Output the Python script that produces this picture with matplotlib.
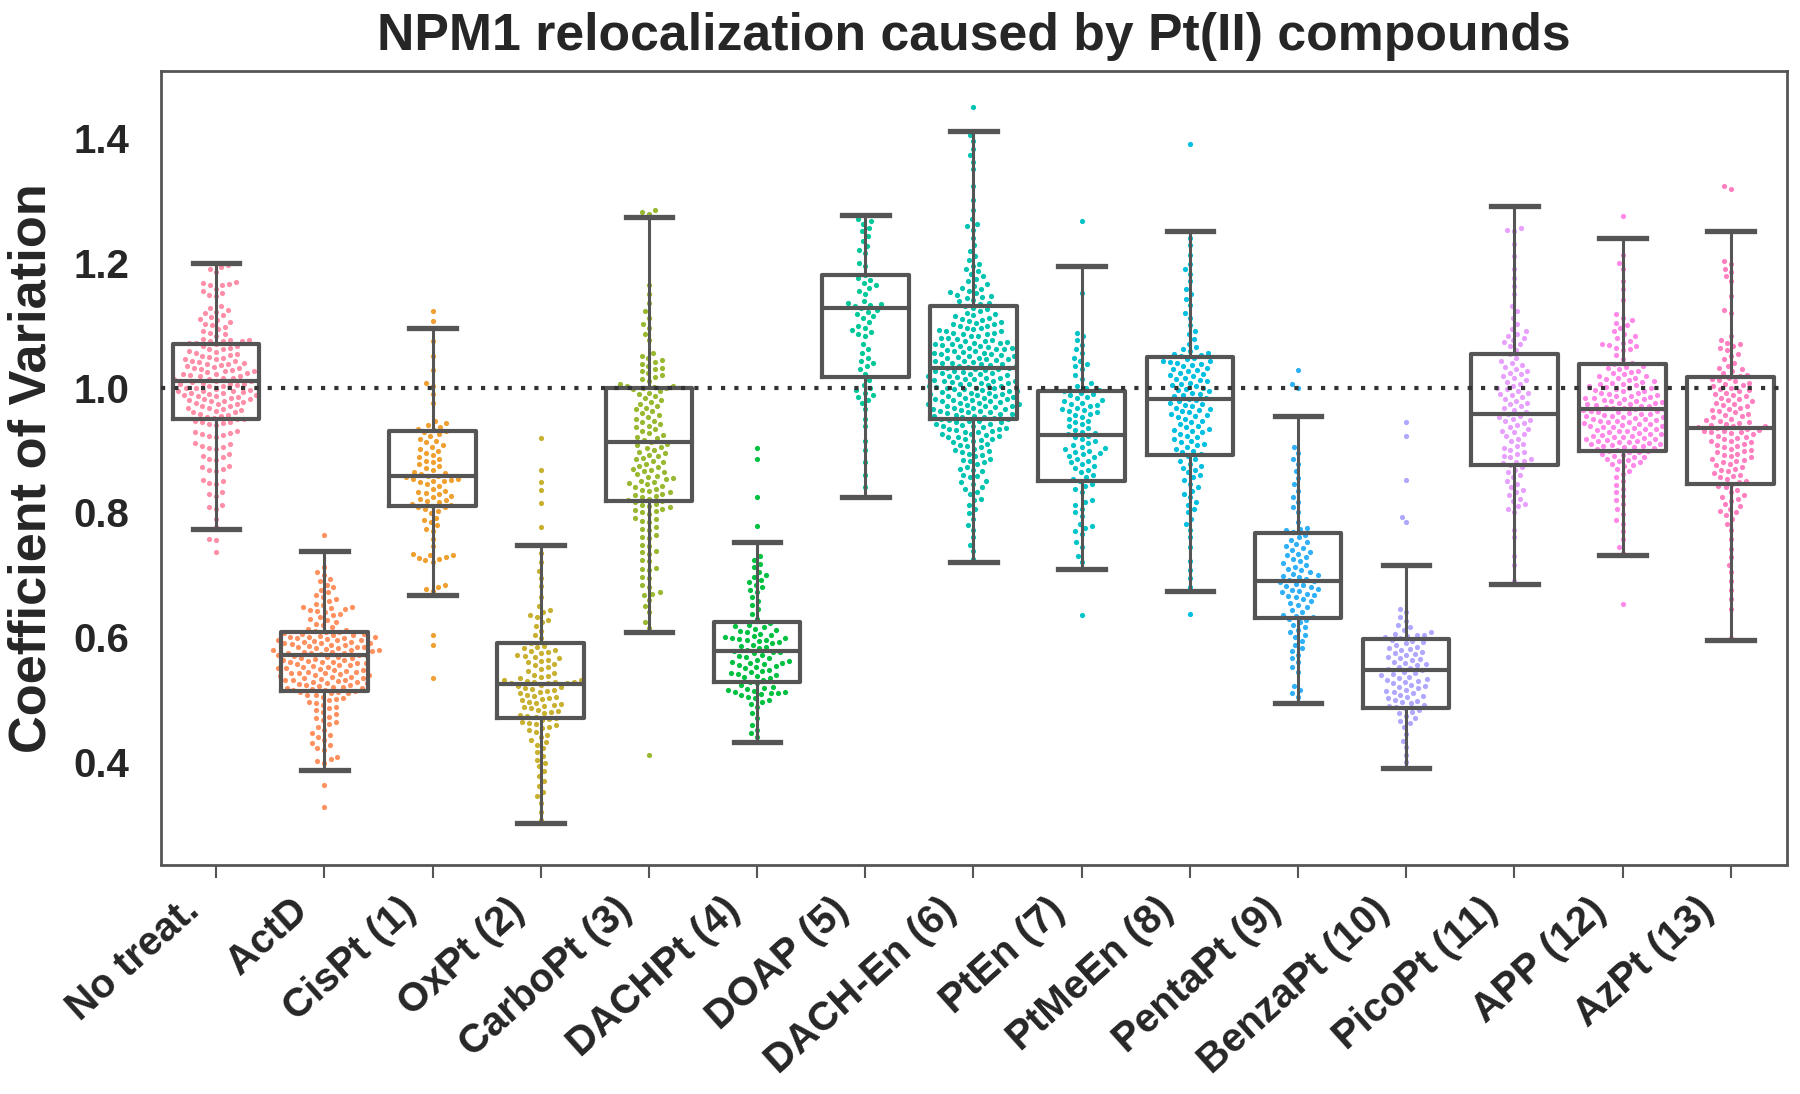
import numpy as np
import matplotlib
matplotlib.use("Agg")
import matplotlib.pyplot as plt

labels = ["No treat.", "ActD", "CisPt (1)", "OxPt (2)", "CarboPt (3)", "DACHPt (4)", "DOAP (5)",
          "DACH-En (6)", "PtEn (7)", "PtMeEn (8)", "PentaPt (9)", "BenzaPt (10)", "PicoPt (11)",
          "APP (12)", "AzPt (13)"]
point_colors = ["#ff8fa8", "#ff9060", "#f0a030", "#c8b030", "#98b830", "#00c040", "#00c898", "#00c4b0",
                "#00c4c8", "#00bfe0", "#30b0f8", "#b0a8ff", "#e8a0ff", "#ff88e8", "#ff80c0"]

# box stats
whisker_low = [0.773, 0.387, 0.668, 0.302, 0.608, 0.433, 0.824, 0.720, 0.710, 0.674, 0.494, 0.391, 0.685, 0.731, 0.596]
quart_1 = [0.950, 0.514, 0.810, 0.471, 0.819, 0.528, 1.017, 0.949, 0.850, 0.892, 0.631, 0.486, 0.876, 0.898, 0.845]
medians = [1.010, 0.571, 0.858, 0.525, 0.913, 0.578, 1.128, 1.032, 0.924, 0.982, 0.690, 0.547, 0.957, 0.966, 0.935]
quart_3 = [1.070, 0.608, 0.930, 0.591, 1.000, 0.624, 1.180, 1.131, 0.995, 1.049, 0.767, 0.597, 1.054, 1.038, 1.017]
whisker_high = [1.200, 0.738, 1.095, 0.747, 1.273, 0.753, 1.277, 1.411, 1.194, 1.251, 0.955, 0.716, 1.291, 1.240, 1.251]

# swarm values, in thousandths
no_treat = [737, 755, 757, 776, 790, 806, 808, 812, 826, 829, 832, 845, 847, 850, 852, 866, 868, 870, 872, 875,
            884, 886, 888, 891, 893, 902, 903, 905, 907, 909, 911, 921, 922, 924, 925, 927, 929, 931, 940, 941, 943,
            944, 945, 947, 949, 950, 951, 953, 955, 956, 958, 960, 961, 963, 964, 966, 967, 968, 970, 971, 973, 974,
            976, 977, 978, 978, 980, 981, 982, 984, 985, 986, 987, 988, 988, 990, 991, 992, 993, 994, 995, 995, 996,
            998, 999, 1000, 1000, 1002, 1003, 1004, 1005, 1006, 1006, 1008, 1009, 1010, 1011, 1012, 1013, 1014, 1015,
            1016, 1018, 1019, 1020, 1021, 1022, 1023, 1025, 1026, 1027, 1028, 1030, 1031, 1032, 1033, 1034, 1036,
            1037, 1038, 1040, 1041, 1042, 1043, 1045, 1046, 1048, 1049, 1051, 1052, 1054, 1056, 1057, 1059, 1061,
            1062, 1064, 1066, 1067, 1069, 1071, 1072, 1074, 1074, 1075, 1076, 1076, 1078, 1083, 1085, 1088, 1091,
            1094, 1097, 1100, 1102, 1105, 1108, 1110, 1113, 1116, 1119, 1121, 1124, 1127, 1130, 1146, 1149, 1152,
            1155, 1158, 1164, 1165, 1166, 1168, 1169, 1185, 1190, 1193, 1197]
act_d = [328, 364, 399, 402, 405, 408, 420, 423, 427, 431, 436, 440, 443, 447, 452, 456, 461, 464, 467, 470, 473,
         477, 480, 483, 486, 489, 492, 495, 497, 499, 501, 503, 505, 507, 508, 510, 511, 512, 513, 514, 515, 516,
         517, 518, 519, 520, 521, 522, 523, 524, 525, 526, 527, 528, 529, 530, 531, 531, 532, 533, 534, 535, 536,
         537, 538, 539, 540, 541, 542, 542, 543, 544, 545, 546, 547, 548, 549, 550, 551, 552, 553, 554, 555, 556,
         557, 558, 559, 560, 560, 561, 562, 563, 564, 565, 566, 567, 568, 569, 570, 571, 572, 572, 573, 574, 575,
         575, 576, 577, 578, 579, 580, 580, 581, 582, 583, 584, 585, 585, 586, 587, 588, 589, 590, 590, 591, 592,
         593, 594, 595, 595, 596, 597, 598, 599, 600, 600, 601, 602, 603, 604, 605, 606, 607, 608, 609, 610, 612,
         614, 616, 619, 622, 625, 628, 630, 632, 635, 638, 640, 642, 644, 646, 647, 648, 649, 651, 654, 658, 661,
         664, 667, 672, 676, 680, 684, 690, 694, 700, 705, 712, 764]
cis_pt = [535, 588, 603, 674, 678, 681, 684, 721, 723, 725, 727, 729, 731, 732, 734, 746, 758, 770, 773, 779, 784,
          788, 791, 799, 802, 806, 808, 809, 811, 812, 814, 816, 818, 820, 822, 825, 827, 829, 831, 833, 835, 838,
          842, 845, 848, 850, 851, 852, 853, 854, 856, 858, 859, 861, 863, 865, 868, 871, 874, 877, 880, 883, 886,
          889, 892, 895, 899, 902, 905, 908, 912, 915, 918, 922, 925, 928, 930, 932, 934, 937, 940, 943, 946, 975,
          990, 1002, 1008, 1028, 1050, 1075, 1106, 1122]
ox_pt = [308, 320, 335, 345, 352, 362, 370, 378, 386, 393, 398, 404, 410, 416, 422, 428, 432, 436, 440, 444, 448,
         451, 454, 457, 459, 461, 463, 465, 467, 469, 471, 473, 474, 476, 478, 480, 482, 484, 486, 488, 490, 491,
         493, 495, 497, 499, 501, 503, 505, 506, 508, 510, 512, 514, 516, 517, 519, 520, 522, 524, 526, 527, 527,
         528, 528, 529, 530, 531, 532, 534, 536, 538, 540, 543, 546, 549, 552, 555, 557, 560, 562, 564, 566, 568,
         570, 572, 574, 576, 578, 580, 582, 584, 586, 590, 598, 604, 610, 618, 624, 628, 633, 636, 640, 644, 650,
         664, 682, 695, 706, 720, 735, 776, 815, 836, 849, 868, 919]
carbo_pt = [411, 615, 625, 640, 650, 660, 668, 670, 672, 681, 683, 695, 697, 707, 709, 711, 722, 724, 734, 736, 738,
            746, 748, 759, 761, 763, 772, 774, 776, 785, 787, 789, 791, 798, 800, 802, 804, 806, 808, 810, 812, 814,
            816, 818, 820, 822, 824, 826, 828, 830, 832, 834, 836, 838, 841, 843, 845, 847, 849, 851, 853, 855, 857,
            859, 861, 864, 866, 868, 870, 872, 875, 877, 880, 882, 885, 887, 890, 892, 895, 897, 900, 903, 905, 908,
            910, 913, 916, 919, 921, 924, 927, 930, 933, 936, 939, 941, 944, 947, 950, 953, 956, 959, 962, 965, 968,
            971, 974, 977, 980, 983, 986, 989, 992, 995, 997, 999, 1000, 1001, 1002, 1003, 1006, 1010, 1014, 1017,
            1020, 1023, 1026, 1029, 1032, 1035, 1038, 1041, 1044, 1047, 1051, 1056, 1076, 1086, 1096, 1102, 1112,
            1122, 1135, 1150, 1165, 1278, 1281, 1285]
dachpt = [440, 446, 452, 460, 470, 478, 488, 493, 497, 499, 502, 505, 507, 509, 510, 511, 512, 513, 514, 515, 517,
          519, 521, 523, 526, 529, 532, 534, 536, 538, 540, 541, 542, 544, 546, 548, 550, 552, 554, 556, 557, 558,
          559, 560, 562, 564, 566, 568, 570, 572, 574, 576, 577, 578, 580, 582, 584, 586, 588, 590, 592, 594, 595,
          596, 597, 598, 599, 600, 602, 604, 606, 608, 610, 612, 614, 616, 618, 620, 623, 630, 638, 645, 652, 658,
          664, 672, 676, 680, 684, 688, 692, 696, 700, 704, 712, 718, 724, 730, 778, 824, 885, 903]
doap = [840, 860, 880, 900, 915, 938, 950, 965, 975, 980, 985, 988, 992, 996, 1000, 1004, 1012, 1022, 1030, 1035,
        1040, 1043, 1048, 1055, 1062, 1070, 1083, 1086, 1089, 1092, 1095, 1098, 1105, 1112, 1114, 1118, 1121, 1124,
        1127, 1130, 1132, 1134, 1136, 1138, 1150, 1155, 1160, 1164, 1168, 1172, 1176, 1180, 1195, 1200, 1215, 1220,
        1226, 1235, 1243, 1250, 1255, 1262, 1266, 1270]
dach_en = [725, 738, 748, 760, 772, 780, 790, 799, 806, 812, 820, 822, 830, 832, 838, 840, 846, 848, 850, 856, 858,
           860, 866, 868, 870, 872, 878, 880, 882, 884, 886, 890, 892, 894, 896, 898, 900, 902, 904, 906, 908, 910,
           912, 914, 916, 917, 918, 920, 921, 922, 924, 925, 926, 928, 929, 930, 932, 933, 934, 935, 936, 938, 939,
           940, 941, 942, 944, 945, 946, 947, 948, 949, 950, 951, 952, 953, 954, 955, 956, 957, 958, 959, 960, 961,
           962, 963, 964, 965, 966, 967, 968, 969, 970, 970, 971, 972, 973, 974, 975, 976, 977, 978, 979, 980, 980,
           981, 982, 983, 984, 985, 986, 987, 988, 989, 990, 990, 991, 992, 993, 994, 995, 996, 997, 998, 999, 1000,
           1000, 1001, 1002, 1003, 1004, 1005, 1006, 1007, 1008, 1009, 1010, 1010, 1011, 1012, 1013, 1014, 1015,
           1016, 1017, 1018, 1019, 1020, 1021, 1022, 1023, 1024, 1025, 1026, 1027, 1028, 1029, 1030, 1031, 1032,
           1033, 1034, 1035, 1036, 1037, 1038, 1039, 1040, 1041, 1042, 1043, 1044, 1045, 1046, 1047, 1048, 1049,
           1050, 1051, 1052, 1053, 1054, 1055, 1056, 1057, 1058, 1059, 1060, 1061, 1062, 1063, 1064, 1065, 1066,
           1067, 1068, 1069, 1070, 1071, 1072, 1073, 1074, 1075, 1076, 1078, 1079, 1080, 1082, 1083, 1085, 1086,
           1087, 1088, 1090, 1091, 1092, 1093, 1095, 1096, 1098, 1099, 1101, 1102, 1104, 1105, 1107, 1108, 1110,
           1112, 1114, 1116, 1118, 1120, 1122, 1125, 1128, 1131, 1134, 1136, 1138, 1140, 1143, 1145, 1147, 1149,
           1151, 1153, 1155, 1158, 1160, 1163, 1166, 1170, 1174, 1178, 1182, 1186, 1190, 1194, 1198, 1204, 1210,
           1218, 1228, 1240, 1252, 1258, 1262, 1270, 1285, 1300, 1322, 1350, 1362, 1372, 1382, 1395, 1405, 1449]
pt_en = [635, 720, 730, 745, 752, 765, 770, 775, 778, 782, 794, 800, 806, 812, 816, 820, 832, 838, 842, 846, 850,
         853, 856, 860, 864, 868, 871, 874, 877, 880, 883, 886, 889, 891, 893, 895, 897, 899, 901, 903, 905, 908,
         911, 914, 917, 920, 923, 925, 927, 929, 932, 935, 938, 941, 944, 947, 950, 953, 956, 958, 960, 962, 964,
         966, 968, 970, 972, 974, 976, 978, 980, 983, 985, 988, 990, 992, 994, 996, 1000, 1002, 1008, 1014, 1020,
         1030, 1034, 1038, 1042, 1048, 1055, 1062, 1068, 1076, 1082, 1088, 1152, 1195, 1266]
pt_me_en = [637, 680, 695, 708, 722, 744, 760, 772, 782, 790, 800, 806, 812, 817, 824, 830, 835, 840, 846, 852, 856,
            860, 864, 868, 871, 874, 878, 882, 886, 890, 893, 896, 899, 902, 905, 908, 910, 912, 914, 917, 920, 923,
            926, 928, 930, 932, 934, 936, 938, 941, 944, 947, 950, 952, 954, 956, 958, 960, 962, 964, 966, 968, 970,
            972, 974, 976, 978, 980, 982, 984, 986, 988, 990, 992, 994, 996, 998, 1000, 1002, 1004, 1006, 1008,
            1010, 1012, 1014, 1016, 1018, 1020, 1022, 1024, 1026, 1028, 1030, 1032, 1034, 1036, 1038, 1040, 1041,
            1042, 1043, 1045, 1048, 1050, 1052, 1054, 1056, 1058, 1062, 1065, 1070, 1078, 1085, 1090, 1100, 1112,
            1120, 1132, 1142, 1150, 1158, 1170, 1182, 1190, 1198, 1212, 1228, 1240, 1390]
penta_pt = [505, 510, 516, 522, 545, 552, 560, 566, 572, 578, 582, 588, 594, 600, 604, 608, 612, 616, 620, 624, 628,
            630, 632, 634, 636, 640, 644, 648, 652, 655, 658, 661, 664, 666, 668, 670, 672, 674, 676, 678, 680, 682,
            684, 686, 688, 690, 692, 694, 696, 698, 700, 702, 704, 707, 710, 713, 716, 719, 722, 725, 728, 731, 734,
            737, 740, 743, 746, 749, 752, 756, 760, 764, 768, 771, 773, 775, 785, 800, 808, 816, 824, 835, 845, 855,
            866, 878, 886, 895, 905, 1000, 1005, 1028]
benza_pt = [400, 412, 424, 434, 445, 456, 462, 466, 470, 474, 478, 481, 484, 486, 488, 490, 492, 494, 496, 498, 500,
            502, 504, 506, 508, 510, 512, 514, 516, 518, 520, 522, 524, 526, 528, 530, 532, 533, 535, 537, 539, 541,
            543, 545, 547, 549, 551, 553, 555, 557, 559, 561, 563, 565, 567, 569, 571, 573, 575, 577, 579, 581, 583,
            585, 587, 590, 592, 594, 596, 598, 600, 602, 603, 604, 606, 608, 612, 616, 620, 626, 632, 640, 645, 784,
            793, 852, 922, 944]
pico_pt = [690, 715, 730, 760, 772, 800, 806, 810, 814, 818, 822, 828, 832, 836, 840, 846, 850, 856, 860, 864, 868,
           872, 876, 879, 881, 883, 885, 888, 891, 894, 897, 900, 903, 906, 910, 914, 918, 922, 925, 928, 931, 934,
           937, 940, 943, 946, 948, 950, 952, 955, 958, 961, 964, 967, 970, 973, 976, 979, 982, 985, 988, 990, 992,
           994, 997, 1000, 1003, 1006, 1009, 1012, 1015, 1018, 1021, 1024, 1027, 1030, 1033, 1036, 1039, 1042, 1048,
           1054, 1060, 1066, 1070, 1073, 1076, 1079, 1083, 1086, 1090, 1094, 1102, 1112, 1122, 1130, 1150, 1162,
           1175, 1190, 1210, 1230, 1250, 1252, 1255]
app = [653, 735, 745, 758, 770, 782, 788, 798, 806, 814, 820, 826, 832, 838, 844, 850, 856, 862, 866, 870, 874, 876,
       878, 880, 882, 884, 886, 888, 889, 890, 892, 894, 896, 897, 898, 899, 900, 902, 903, 904, 905, 906, 907, 908,
       909, 910, 911, 912, 913, 914, 915, 916, 917, 918, 919, 920, 921, 922, 923, 924, 925, 926, 927, 928, 930, 931,
       932, 933, 934, 935, 936, 937, 938, 939, 940, 941, 942, 943, 944, 945, 946, 947, 948, 949, 950, 951, 952, 953,
       954, 955, 956, 957, 958, 959, 960, 961, 962, 963, 964, 965, 966, 967, 968, 969, 970, 971, 972, 973, 974, 975,
       976, 977, 978, 979, 980, 981, 982, 983, 984, 985, 986, 987, 988, 990, 991, 992, 994, 995, 996, 998, 999, 1000,
       1001, 1002, 1004, 1005, 1006, 1008, 1009, 1010, 1012, 1013, 1015, 1016, 1018, 1019, 1021, 1023, 1025, 1027,
       1029, 1031, 1033, 1035, 1037, 1039, 1046, 1052, 1060, 1062, 1064, 1066, 1068, 1070, 1072, 1075, 1080, 1083,
       1085, 1090, 1095, 1100, 1104, 1108, 1112, 1118, 1140, 1158, 1170, 1190, 1200, 1212, 1275]
az_pt = [598, 645, 662, 675, 690, 704, 715, 728, 742, 758, 772, 782, 790, 796, 800, 803, 806, 810, 814, 818, 822,
         825, 828, 832, 836, 840, 842, 845, 848, 850, 853, 856, 858, 860, 863, 866, 868, 870, 873, 876, 878, 880,
         882, 884, 886, 888, 890, 892, 894, 896, 898, 900, 902, 904, 906, 908, 910, 912, 914, 915, 917, 919, 921,
         923, 925, 927, 928, 929, 930, 931, 932, 934, 935, 936, 938, 939, 940, 942, 943, 945, 947, 948, 950, 952,
         954, 956, 958, 960, 962, 964, 966, 968, 970, 972, 974, 976, 978, 980, 982, 984, 986, 988, 990, 992, 994,
         996, 998, 1000, 1002, 1004, 1006, 1008, 1010, 1012, 1014, 1016, 1018, 1020, 1023, 1026, 1029, 1032, 1035,
         1040, 1045, 1050, 1054, 1060, 1063, 1066, 1070, 1072, 1076, 1082, 1120, 1124, 1146, 1170, 1178, 1185, 1190,
         1198, 1202, 1318, 1323]

all_values = [no_treat, act_d, cis_pt, ox_pt, carbo_pt, dachpt, doap, dach_en, pt_en, pt_me_en, penta_pt,
              benza_pt, pico_pt, app, az_pt]


def swarm_offsets(values, d_x, d_y):
    # plain beeswarm: sort by y, put each point as near the centre as it can go
    # d_x and d_y are the point spacing in data units
    ys = np.sort(values)
    placed = []
    xs = []
    for y in ys:
        near = [(px, (y - py) / d_y) for px, py in placed if abs(y - py) < d_y]
        cands = [0.0]
        for px, dy in near:
            step = np.sqrt(1 - dy ** 2) * d_x
            cands += [px - step, px + step]
        best = None
        for c in sorted(cands, key=abs):
            if all(((c - px) / d_x) ** 2 + dy ** 2 >= 0.999 for px, dy in near):
                best = c
                break
        xs.append(best)
        placed.append((best, y))
    return np.array(xs), ys


plt.rcParams["font.family"] = ["Liberation Sans", "DejaVu Sans"]
plt.rcParams["font.weight"] = "bold"
text_col = "#262626"
line_col = "#555555"

fig = plt.figure(figsize=(18, 10.94), dpi=100)
ax = fig.add_axes([161 / 1800, 1 - 864.5 / 1094, (1787 - 161) / 1800, (864.5 - 71) / 1094])
ax.set_xlim(-0.51, 14.52)
ax.set_ylim(0.236, 1.507)

d_x = 7.2 / 108.2  # px spacing over px between categories
d_y = 7.2 / 624.5
for i, vals in enumerate(all_values):
    xo, ys = swarm_offsets(np.array(vals) / 1000, d_x, d_y)
    ax.scatter(i + xo, ys, s=14, color=point_colors[i], linewidths=0, zorder=2)

stats = []
for i, lab in enumerate(labels):
    stats.append({"label": lab, "whislo": whisker_low[i], "q1": quart_1[i], "med": medians[i],
                  "q3": quart_3[i], "whishi": whisker_high[i], "fliers": []})
ax.bxp(stats, positions=range(len(labels)), widths=0.8, showfliers=False, manage_ticks=False, zorder=3,
       boxprops=dict(color=line_col, linewidth=3),
       medianprops=dict(color=line_col, linewidth=3),
       whiskerprops=dict(color=line_col, linewidth=2.2),
       capprops=dict(color=line_col, linewidth=3.8),
       capwidths=0.43)

ax.axhline(1.0, color="#333333", linewidth=3, linestyle=(0, (1, 2.2)), zorder=4)

ax.set_xticks(range(len(labels)))
ax.set_xticklabels([])
# tick labels sit left of their ticks in the original, so place them by hand
for i, lab in enumerate(labels):
    ax.annotate(lab, xy=(i, 0), xycoords=ax.get_xaxis_transform(), xytext=(-25, -19), textcoords="offset points",
                rotation=42, ha="right", va="top", rotation_mode="anchor", fontsize=29, color=text_col,
                annotation_clip=False)
ax.set_yticks([0.4, 0.6, 0.8, 1.0, 1.2, 1.4])
ax.set_yticklabels(["0.4", "0.6", "0.8", "1.0", "1.2", "1.4"], fontsize=29, color=text_col)
ax.tick_params(axis="x", length=9, width=1.5, color=line_col, pad=10)
ax.tick_params(axis="y", length=0, pad=23)
ax.set_ylabel("Coefficient of Variation", fontsize=37.7, fontweight="bold", color=text_col, labelpad=12)
ax.set_title("NPM1 relocalization caused by Pt(II) compounds", fontsize=37.3, fontweight="bold", color=text_col, pad=15)
for s in ax.spines.values():
    s.set_color(line_col)
    s.set_linewidth(2)

fig.savefig("out.png", dpi=100)
